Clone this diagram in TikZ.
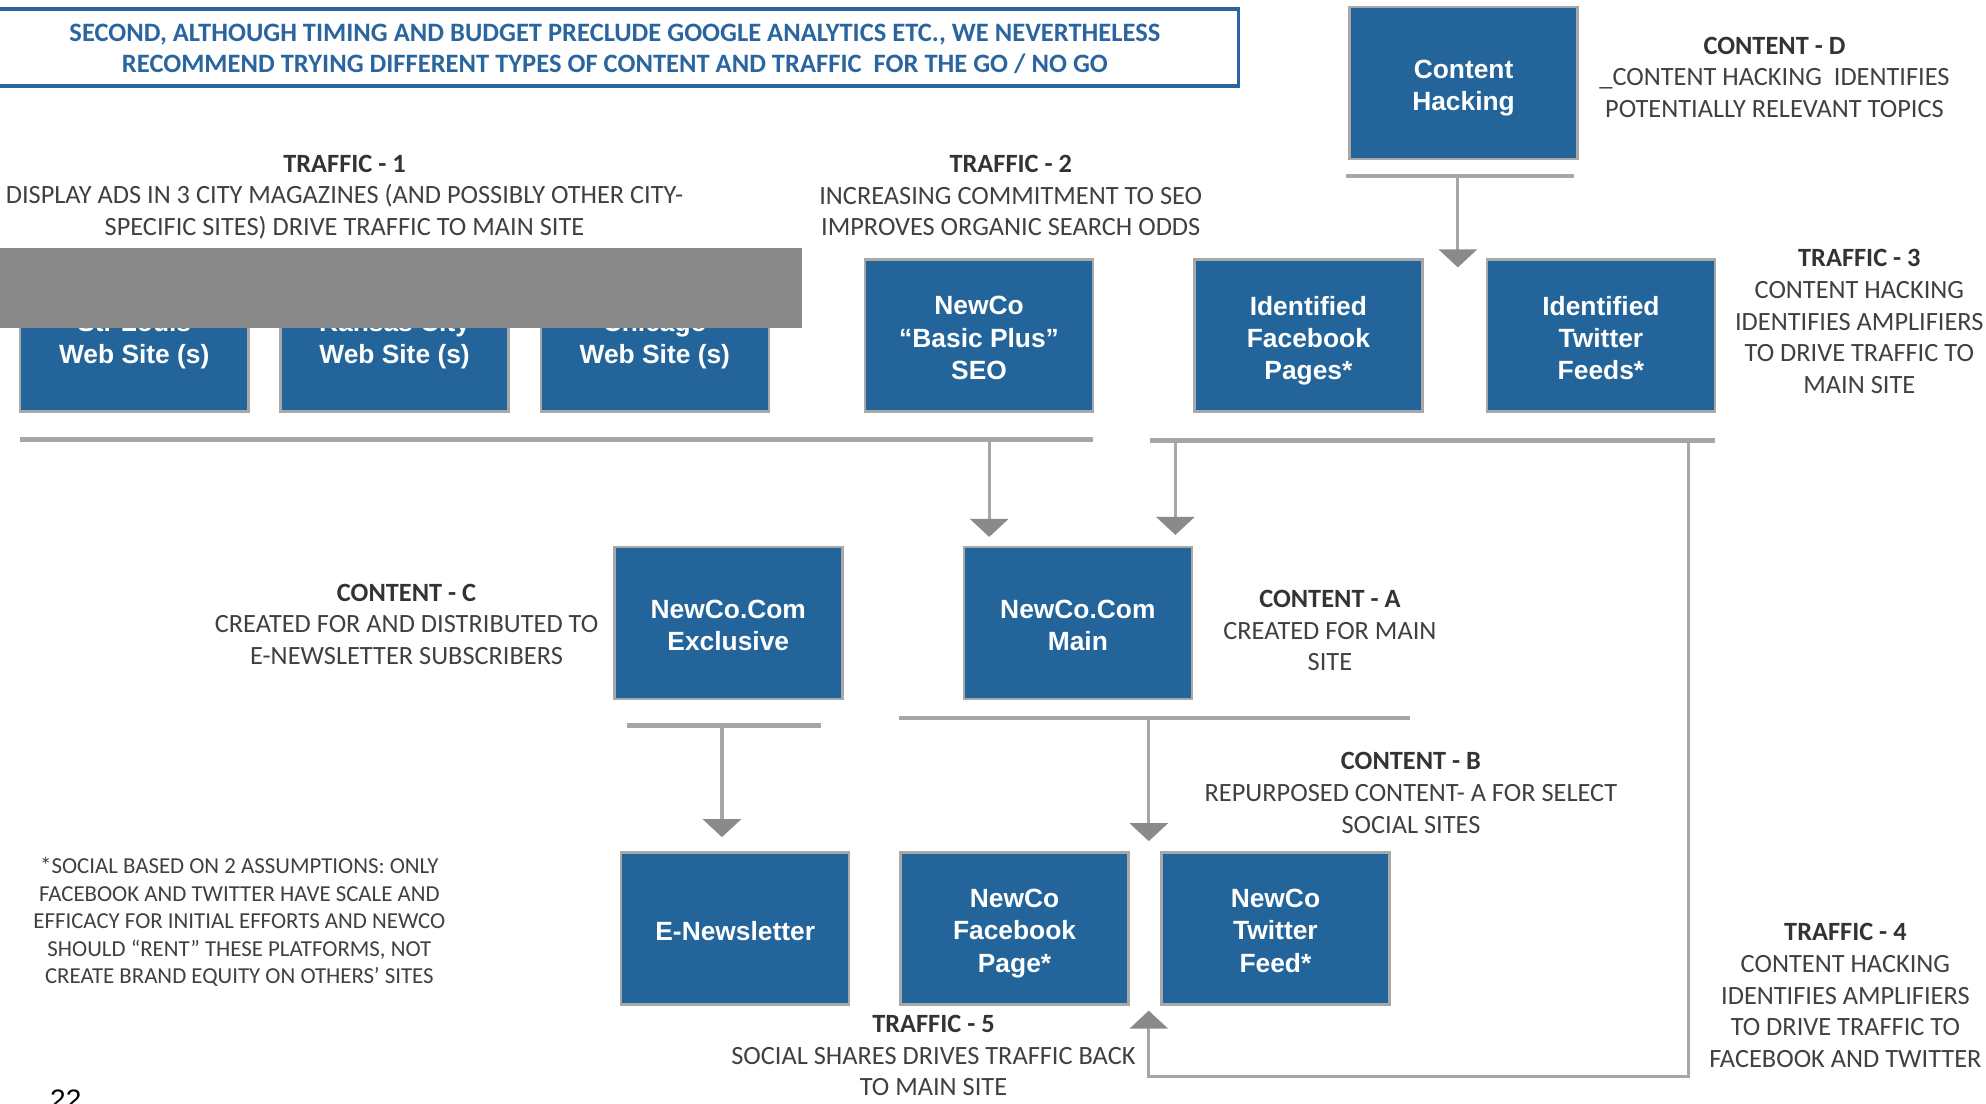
\documentclass[tikz,border=0pt]{standalone}
\usepackage{fontspec}
\setmainfont{Carlito}
\newfontfamily\boxfont{Liberation Sans}
\usetikzlibrary{arrows.meta}
\definecolor{boxblue}{HTML}{23659A}
\definecolor{boxedge}{HTML}{A8A8A8}
\definecolor{linegray}{HTML}{A6A6A6}
\definecolor{tipgray}{HTML}{8A8A8A}
\definecolor{titleblue}{HTML}{2A65A0}
\definecolor{headgray}{HTML}{333333}
\definecolor{bodygray}{HTML}{404040}
\definecolor{coverg}{HTML}{898989}
\newcommand\bluebox[3]{%
  \node[bluebox] (#1) at (#2) {};
  \node[boxtxt] (#1t) at ([yshift=-0.05cm]#1.center) {#3\vphantom{g}};}
\begin{document}
\begin{tikzpicture}[x=0.012666cm,y=-0.012666cm,
 bluebox/.style={fill=boxblue,draw=boxedge,line width=0.7pt,minimum width=2.28cm,minimum height=1.52cm,inner sep=0pt},
 boxtxt/.style={inner sep=0pt,align=center,text=white,font=\boxfont\bfseries\fontsize{7.5}{9.2}\selectfont},
 lbl/.style={align=center,inner sep=0pt,text=bodygray,font=\fontsize{7.5}{9}\selectfont},
 note/.style={align=center,inner sep=0pt,text=bodygray,font=\fontsize{6.5}{7.85}\selectfont},
 bar/.style={draw=linegray,line width=1.3pt},
 arr/.style={draw=linegray,line width=0.9pt,-{Triangle[width=0.38cm,length=0.18cm,color=tipgray]}},
 ]
\useasboundingbox (0,0) rectangle (1568,871);
\clip (0,0) rectangle (1568,871);

% title
\draw[titleblue,line width=1pt] (-2,7) rectangle (978,68);
\node[align=center,inner sep=0pt,text=titleblue,font=\bfseries\fontsize{7.55}{9}\selectfont] (title) at (485.5,38.5)
 {SECOND, ALTHOUGH TIMING AND BUDGET PRECLUDE GOOGLE ANALYTICS ETC., WE NEVERTHELESS\\RECOMMEND TRYING DIFFERENT TYPES OF CONTENT AND TRAFFIC\ \ FOR THE GO / NO GO};

% boxes
\bluebox{ch}{1155.5,65.5}{Content\\Hacking}
\bluebox{w1}{106,265}{St. Louis\\Web Site (s)}
\bluebox{w2}{311.5,265}{Kansas City\\Web Site (s)}
\bluebox{w3}{517,265}{Chicago\\Web Site (s)}
\fill[coverg] (0,196) rectangle (633,259);
\bluebox{seo}{773,265}{NewCo\\“Basic Plus”\\SEO}
\bluebox{fbp}{1033,265}{Identified\\Facebook\\Pages*}
\bluebox{twf}{1264,265}{Identified\\Twitter\\Feeds*}
\bluebox{excl}{575,492}{NewCo.Com\\Exclusive}
\bluebox{main}{851,492}{NewCo.Com\\Main}
\bluebox{enews}{580.5,733}{E-Newsletter}
\bluebox{fbpage}{801,733}{NewCo\\Facebook\\Page*}
\bluebox{twfeed}{1007,733}{NewCo\\Twitter\\Feed*}

% labels
\node[lbl] (cd) at (1401,61) {\textcolor{headgray}{\textbf{CONTENT - D}}\\\_CONTENT HACKING\ \ IDENTIFIES\\POTENTIALLY RELEVANT TOPICS};
\node[lbl] (t1) at (272,155.5) {\textcolor{headgray}{\textbf{TRAFFIC - 1}}\\DISPLAY ADS IN 3 CITY MAGAZINES (AND POSSIBLY OTHER CITY-\\SPECIFIC SITES) DRIVE TRAFFIC TO MAIN SITE};
\node[lbl] (t2) at (798,154.5) {\textcolor{headgray}{\textbf{TRAFFIC - 2}}\\INCREASING COMMITMENT TO SEO\\IMPROVES ORGANIC SEARCH ODDS};
\node[lbl] (t3) at (1468,254) {\textcolor{headgray}{\textbf{TRAFFIC - 3}}\\CONTENT HACKING\\IDENTIFIES AMPLIFIERS\\TO DRIVE TRAFFIC TO\\MAIN SITE};
\node[lbl] (cc) at (321,493) {\textcolor{headgray}{\textbf{CONTENT - C}}\\CREATED FOR AND DISTRIBUTED TO\\E-NEWSLETTER SUBSCRIBERS};
\node[lbl] (ca) at (1050,498) {\textcolor{headgray}{\textbf{CONTENT - A}}\\CREATED FOR MAIN\\SITE};
\node[lbl] (cb) at (1114,626) {\textcolor{headgray}{\textbf{CONTENT - B}}\\REPURPOSED CONTENT- A FOR SELECT\\SOCIAL SITES};
\node[note] (fn) at (189,728) {*SOCIAL BASED ON 2 ASSUMPTIONS: ONLY\\FACEBOOK AND TWITTER HAVE SCALE AND\\EFFICACY FOR INITIAL EFFORTS AND NEWCO\\SHOULD “RENT” THESE PLATFORMS, NOT\\CREATE BRAND EQUITY ON OTHERS’ SITES};
\node[lbl] (t5) at (737,833.5) {\textcolor{headgray}{\textbf{TRAFFIC - 5}}\\SOCIAL SHARES DRIVES TRAFFIC BACK\\TO MAIN SITE};
\node[lbl] (t4) at (1457,786) {\textcolor{headgray}{\textbf{TRAFFIC - 4}}\\CONTENT HACKING\\IDENTIFIES AMPLIFIERS\\TO DRIVE TRAFFIC TO\\FACEBOOK AND TWITTER};
\node[anchor=base,inner sep=0pt,font=\boxfont\fontsize{8}{9}\selectfont] (pg) at (52,876) {22};

% bars and connectors
\coordinate (chL) at (1063,139); \coordinate (chR) at (1243,139);
\draw[bar] (chL) -- (chR);
\coordinate (a0) at (1151,139);
\draw[arr,shorten >=-0.09cm] (a0) -- (a0 |- fbp.north);

\coordinate (bLl) at (16,347); \coordinate (bLr) at (863,347);
\draw[bar] (bLl) -- (bLr);
\coordinate (bRl) at (908,348); \coordinate (bRr) at (1354,348);
\draw[bar] (bRl) -- (bRr);
\coordinate (a1) at (781,348);
\coordinate (a2) at (928,349);
\draw[arr,shorten >=0.09cm] (a1) -- (a1 |- main.north);
\draw[arr,shorten >=0.11cm] (a2) -- (a2 |- main.north);

\coordinate (r1) at (1333,349);
\coordinate (l4) at (907,850);
\draw[arr,shorten >=0.05cm] (r1) |- (l4) -- (l4 |- fbpage.south);

\coordinate (eL) at (495,573); \coordinate (eR) at (648,573);
\draw[bar] (eL) -- (eR);
\coordinate (a3) at (570,573);
\draw[arr,shorten >=0.14cm] (a3) -- (a3 |- enews.north);

\coordinate (mL) at (710,567); \coordinate (mR) at (1113,567);
\draw[bar] (mL) -- (mR);
\coordinate (a4) at (907,567);
\draw[arr,shorten >=0.1cm] (a4) -- (a4 |- fbpage.north);
\end{tikzpicture}
\end{document}
